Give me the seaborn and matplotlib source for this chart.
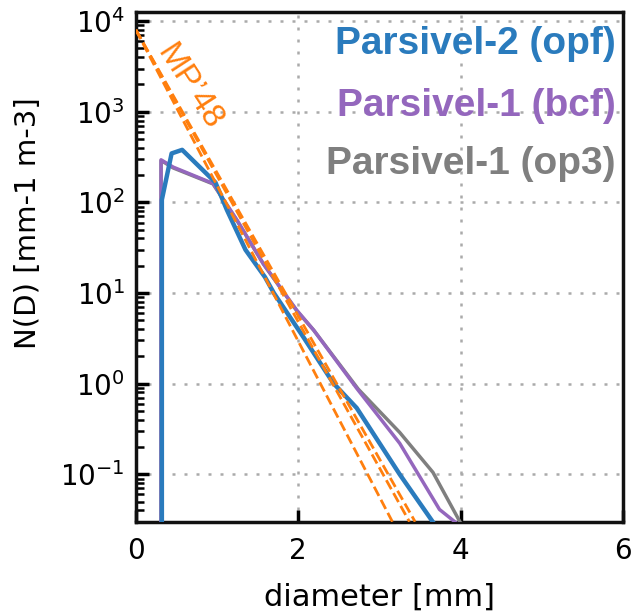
import numpy as np
import pandas as pd
import seaborn as sns
import matplotlib.pyplot as plt
from matplotlib.ticker import FixedLocator, NullFormatter

sns.set_style("ticks")
plt.rcParams['font.family'] = ['DejaVu Sans']
plt.rcParams['text.color'] = 'black'
plt.rcParams['axes.labelcolor'] = 'black'
plt.rcParams['axes.edgecolor'] = '#111111'
plt.rcParams['axes.linewidth'] = 2.5
plt.rcParams['xtick.color'] = 'black'
plt.rcParams['ytick.color'] = 'black'
plt.rcParams['xtick.direction'] = 'in'
plt.rcParams['ytick.direction'] = 'in'
plt.rcParams['xtick.major.size'] = 9
plt.rcParams['ytick.major.size'] = 9
plt.rcParams['ytick.minor.size'] = 5.5
plt.rcParams['xtick.major.width'] = 2.5
plt.rcParams['ytick.major.width'] = 2.5
plt.rcParams['ytick.minor.width'] = 1.8
plt.rcParams['xtick.major.pad'] = 11
plt.rcParams['ytick.major.pad'] = 8
plt.rcParams['xtick.labelsize'] = 20
plt.rcParams['ytick.labelsize'] = 20

# Parsivel-2 (opf), blue
d_opf = [0.32, 0.32, 0.44, 0.57, 0.98, 1.12, 1.35, 1.59, 1.70, 2.07, 2.43, 2.72, 3.25, 3.68]
n_opf = [0.001, 107, 347, 380, 166, 83, 30, 15, 10, 3.2, 1.02, 0.54, 0.10, 0.028]

# Parsivel-1 (bcf), purple
d_bcf = [0.31, 0.31, 0.46, 0.95, 1.25, 1.57, 1.98, 2.19, 2.72, 3.25, 3.74, 3.97]
n_bcf = [0.001, 295, 245, 162, 63, 21, 6.5, 3.9, 0.89, 0.22, 0.041, 0.028]

# Parsivel-1 (op3), gray
d_op3 = [0.31, 0.31, 0.46, 0.95, 1.25, 1.57, 1.98, 2.19, 2.74, 3.25, 3.66, 4.01]
n_op3 = [0.001, 290, 240, 160, 62, 21, 6.4, 3.9, 0.87, 0.29, 0.105, 0.028]

# MP'48 curves (straight on log axis), start and end points
d_mp_ends = [3.16, 3.37, 3.44]
n_mp_start = 8000
n_mp_end = 0.03

labels = ["Parsivel-2 (opf)", "Parsivel-1 (bcf)", "Parsivel-1 (op3)"]
colors = ["#2a7bbd", "#9467bd", "#7f7f7f"]

fig = plt.figure(figsize=(6.35, 6.16), dpi=100)
ax = fig.add_axes([0.214, 0.153, 0.767, 0.827])
ax.set_yscale('log')

sns.lineplot(x=d_op3, y=n_op3, ax=ax, color=colors[2], lw=2.5, estimator=None, sort=False, zorder=3)
sns.lineplot(x=d_bcf, y=n_bcf, ax=ax, color=colors[1], lw=2.5, estimator=None, sort=False, zorder=4)
sns.lineplot(x=d_opf, y=n_opf, ax=ax, color=colors[0], lw=3.2, estimator=None, sort=False, zorder=5)
for d_end in d_mp_ends:
    sns.lineplot(x=[0, d_end], y=[n_mp_start, n_mp_end], ax=ax, color="#ff7f0e",
                 lw=2, linestyle='--', estimator=None, sort=False, zorder=6)

ax.set_xlim(0, 6)
ax.set_xticks([0, 2, 4, 6])
ax.set_yticks([10.0 ** e for e in range(-1, 5)])
minor_locs = [m * 10.0 ** e for e in range(-2, 5) for m in range(2, 10)]
ax.yaxis.set_minor_locator(FixedLocator(minor_locs))
ax.yaxis.set_minor_formatter(NullFormatter())
ax.set_ylim(0.03, 1.25e4)

ax.tick_params(which='both', top=False, right=False, left=True, bottom=True)
ax.tick_params(axis='x', which='minor', bottom=False)
ax.grid(True, which='major', color='#aaaaaa', lw=1.8, linestyle=(0, (1.2, 3.6)))

ax.set_xlabel("diameter [mm]", fontsize=22, labelpad=13)
ax.set_ylabel("N(D) [mm-1 m-3]", fontsize=21)
ax.yaxis.set_label_coords(-0.193, 0.586)

# coloured text legend
for lab, col, yy in zip(labels, colors, [0.918, 0.796, 0.682]):
    ax.text(0.985, yy, lab, transform=ax.transAxes, ha='right', va='baseline',
            color=col, fontsize=28, fontweight='bold', family='Liberation Sans')

ax.text(0.66, 1850, "MP\u201948", color="#ff7f0e", fontsize=24, family='Liberation Sans',
        rotation=-57, rotation_mode='anchor', ha='center', va='center')

fig.savefig("out.png", dpi=100)
